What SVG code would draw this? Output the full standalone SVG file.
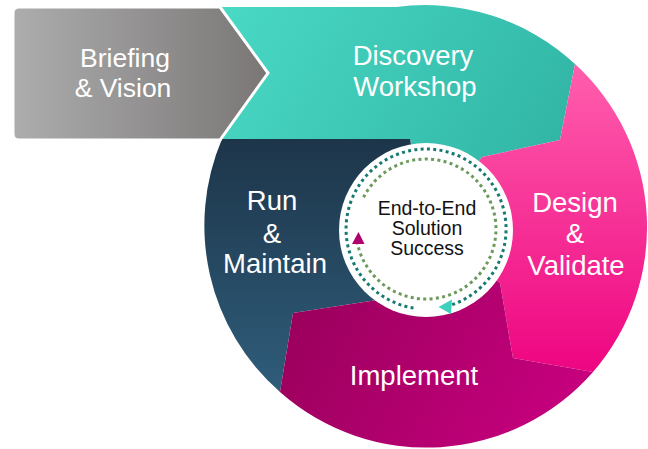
<svg xmlns="http://www.w3.org/2000/svg" width="648" height="449" viewBox="0 0 648 449">
  <defs>
    <linearGradient id="gGray" x1="0" y1="0" x2="1" y2="0">
      <stop offset="0" stop-color="#adadad"/>
      <stop offset="1" stop-color="#7a7676"/>
    </linearGradient>
    <linearGradient id="gTeal" x1="222" y1="7" x2="560" y2="200" gradientUnits="userSpaceOnUse">
      <stop offset="0" stop-color="#49d9c5"/>
      <stop offset="1" stop-color="#30b3a3"/>
    </linearGradient>
    <linearGradient id="gNavy" x1="0" y1="139" x2="0" y2="392" gradientUnits="userSpaceOnUse">
      <stop offset="0" stop-color="#1d3549"/>
      <stop offset="1" stop-color="#2f5d7b"/>
    </linearGradient>
    <linearGradient id="gPink" x1="0" y1="63" x2="0" y2="372" gradientUnits="userSpaceOnUse">
      <stop offset="0" stop-color="#ff5fad"/>
      <stop offset="1" stop-color="#ee0581"/>
    </linearGradient>
    <linearGradient id="gImpl" x1="293" y1="300" x2="560" y2="447" gradientUnits="userSpaceOnUse">
      <stop offset="0" stop-color="#9a005c"/>
      <stop offset="1" stop-color="#c8007f"/>
    </linearGradient>
    <style>
      .lbl { font-family: "Liberation Sans", Arial, sans-serif; font-size: 27.5px; fill: #ffffff; text-anchor: middle; }
      .brf { font-size: 26.5px; }
      .ctr { font-family: "Liberation Sans", Arial, sans-serif; font-size: 19.5px; fill: #111111; text-anchor: middle; }
      .ring { fill: none; stroke-width: 3; stroke-dasharray: 3 3.3; }
    </style>
  </defs>

  <g id="discovery">
    <path d="M222,7 L396,7 A221,221 0 0 1 575,64 L560,140 L482,157 L426,230 L410,139 L222,139 Z" fill="url(#gTeal)"/>
    <text class="lbl"><tspan x="413" y="65">Discovery</tspan><tspan x="415" y="96">Workshop</tspan></text>
  </g>

  <g id="run-maintain">
    <path d="M222,139 L410,139 L426,230 L377,300 L293,313 L280,392 A221,221 0 0 1 222,139 Z" fill="url(#gNavy)"/>
    <text class="lbl"><tspan x="272" y="210">Run</tspan><tspan x="272" y="243">&amp;</tspan><tspan x="275" y="273">Maintain</tspan></text>
  </g>

  <g id="design-validate">
    <path d="M482,157 L560,140 L575,64 A221,221 0 0 1 593,372 L513,358 L500,283 L426,230 Z" fill="url(#gPink)"/>
    <text class="lbl"><tspan x="575" y="212">Design</tspan><tspan x="575" y="243">&amp;</tspan><tspan x="576" y="275">Validate</tspan></text>
  </g>

  <g id="implement">
    <path d="M293,313 L377,300 L426,230 L500,283 L513,358 L593,372 A221,221 0 0 1 280,392 Z" fill="url(#gImpl)"/>
    <text class="lbl" x="414" y="385">Implement</text>
  </g>

  <g id="briefing">
    <path d="M19,7 L220,7 L268,73 L220,140 L19,140 Q13,140 13,134 L13,13 Q13,7 19,7 Z" fill="url(#gGray)" stroke="#ffffff" stroke-width="3" stroke-linejoin="miter"/>
    <text class="lbl brf"><tspan x="125" y="66.5">Briefing</tspan><tspan x="123" y="96.5">&amp; Vision</tspan></text>
  </g>

  <g id="center">
    <circle cx="426" cy="230" r="87" fill="#ffffff"/>
    <text class="ctr"><tspan x="427" y="215">End-to-End</tspan><tspan x="427" y="235">Solution</tspan><tspan x="427" y="255">Success</tspan></text>
  </g>

  <g id="connectors">
    <path class="ring" stroke="#167a70" d="M413.5,308 A80,80 0 1 1 450.7,305.1"/>
    <polygon points="438.5,307 452,299.5 451,314" fill="#3fcfbe"/>
    <path class="ring" stroke="#6c9a5c" d="M363.6,197.2 A70,70 0 1 1 357.5,243.6"/>
    <polygon points="358.5,232 352,244 364.5,244" fill="#b0006e"/>
  </g>
</svg>
